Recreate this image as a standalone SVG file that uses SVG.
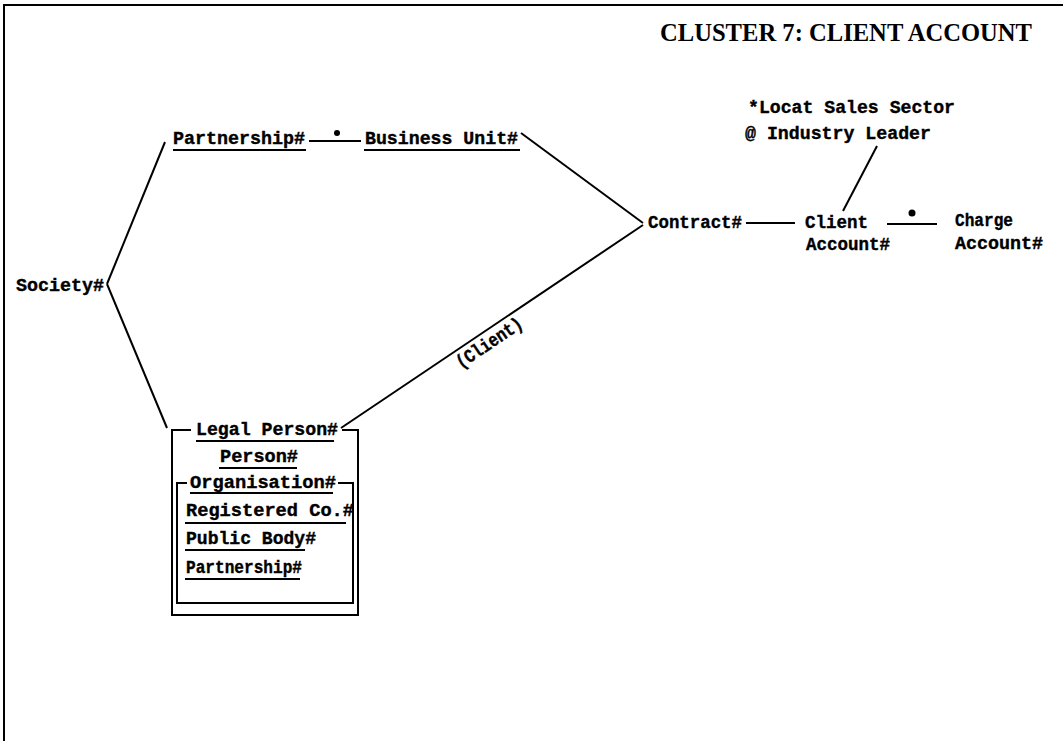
<svg xmlns="http://www.w3.org/2000/svg" width="1063" height="741" viewBox="0 0 1063 741">
  <style>
    .t { font-family: "Liberation Mono", "DejaVu Sans Mono", monospace; font-weight: bold; font-size: 19px; fill: #000; stroke: #000; stroke-width: 0.4; }
    .title { font-family: "Liberation Serif", "DejaVu Serif", serif; font-weight: bold; font-size: 25px; fill: #000; }
    .ln { stroke: #000; stroke-width: 2; fill: none; }
    .ul { stroke: #000; stroke-width: 2; fill: none; }
  </style>
  <rect width="1063" height="741" fill="#fff"/>

  <!-- frame -->
  <path class="ln" d="M4,741 V5 H1063"/>
  <text class="title" x="660" y="41" textLength="372" lengthAdjust="spacingAndGlyphs">CLUSTER 7: CLIENT ACCOUNT</text>

  <!-- connectors -->
  <g id="connectors">
    <path class="ln" d="M107,284 L165,142"/>
    <path class="ln" d="M107,284 L167,428"/>
    <path class="ln" d="M309,141 H361"/>
    <circle cx="337" cy="133" r="3" fill="#000"/>
    <path class="ln" d="M521,133 L643,223"/>
    <path class="ln" d="M341,428 L643,225"/>
    <text class="t" transform="translate(461,369) rotate(-33.8)" font-size="16" textLength="76" lengthAdjust="spacingAndGlyphs">(Client)</text>
    <path class="ln" d="M746,223 H795"/>
    <path class="ln" d="M877,146 L843,211"/>
    <path class="ln" d="M887,224 H937"/>
    <circle cx="912" cy="213" r="3.5" fill="#000"/>
  </g>

  <g id="partnership">
    <text class="t" x="173" y="144" textLength="132" lengthAdjust="spacingAndGlyphs">Partnership#</text>
    <path class="ul" d="M173,150 H306"/>
  </g>

  <g id="business-unit">
    <text class="t" x="365" y="144" textLength="153" lengthAdjust="spacingAndGlyphs">Business Unit#</text>
    <path class="ul" d="M364,150 H520"/>
  </g>

  <g id="society">
    <text class="t" x="16" y="291" textLength="88" lengthAdjust="spacingAndGlyphs">Society#</text>
  </g>

  <g id="contract">
    <text class="t" x="648" y="228" textLength="94" lengthAdjust="spacingAndGlyphs">Contract#</text>
  </g>

  <g id="sales-sector">
    <text class="t" x="748" y="113" font-size="17" textLength="207" lengthAdjust="spacingAndGlyphs">*Locat Sales Sector</text>
    <text class="t" x="745" y="139" textLength="186" lengthAdjust="spacingAndGlyphs">@ Industry Leader</text>
  </g>

  <g id="client-account">
    <text class="t" x="805" y="228" textLength="63" lengthAdjust="spacingAndGlyphs">Client</text>
    <text class="t" x="806" y="250" font-size="15" textLength="84" lengthAdjust="spacingAndGlyphs">Account#</text>
  </g>

  <g id="charge-account">
    <text class="t" x="955" y="226" font-size="17" textLength="58" lengthAdjust="spacingAndGlyphs">Charge</text>
    <text class="t" x="955" y="249" font-size="15" textLength="88" lengthAdjust="spacingAndGlyphs">Account#</text>
  </g>

  <g id="legal-person">
    <path class="ln" d="M191,430 H172 V615 H358 V430 H342"/>
    <text class="t" x="196" y="435" textLength="142" lengthAdjust="spacingAndGlyphs">Legal Person#</text>
    <path class="ul" d="M196,441 H334"/>
    <text class="t" x="220" y="462" textLength="78" lengthAdjust="spacingAndGlyphs">Person#</text>
    <path class="ul" d="M219,468 H297"/>
  </g>

  <g id="organisation">
    <path class="ln" d="M187,483 H177 V603 H353 V483 H338"/>
    <text class="t" x="190" y="488" font-size="18" textLength="146" lengthAdjust="spacingAndGlyphs">Organisation#</text>
    <path class="ul" d="M190,493 H333"/>
    <text class="t" x="186" y="516" textLength="168" lengthAdjust="spacingAndGlyphs">Registered Co.#</text>
    <path class="ul" d="M185,523 H346"/>
    <text class="t" x="186" y="544" textLength="130" lengthAdjust="spacingAndGlyphs">Public Body#</text>
    <path class="ul" d="M185,550 H305"/>
    <text class="t" x="186" y="573" textLength="116" lengthAdjust="spacingAndGlyphs">Partnership#</text>
    <path class="ul" d="M185,579 H300"/>
  </g>
</svg>
